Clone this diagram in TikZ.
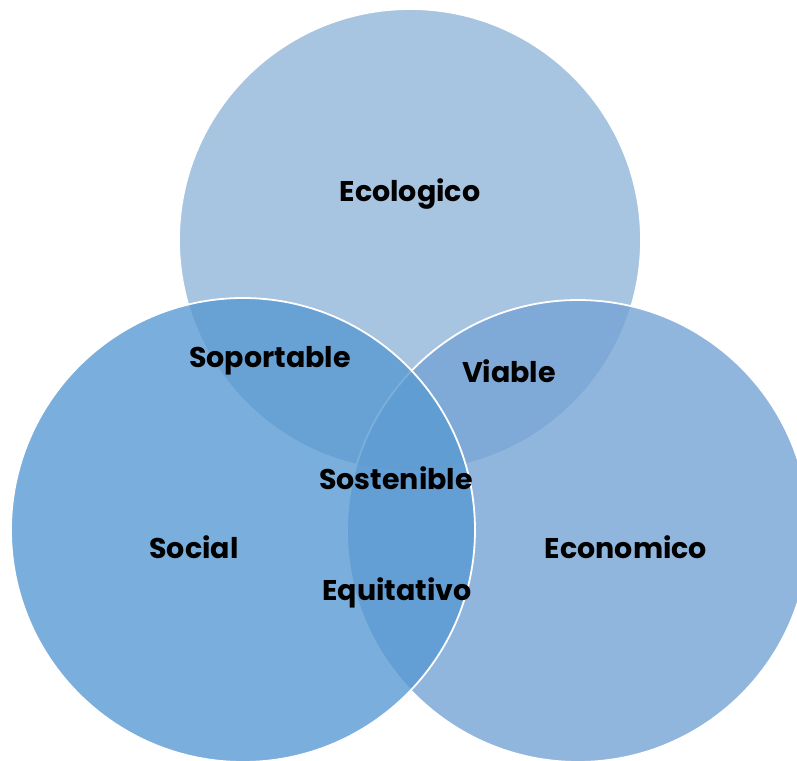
\documentclass[tikz,border=0pt]{standalone}
\usepackage{fontspec}
\setmainfont{Poppins}
\definecolor{ecocol}{RGB}{145,181,216}
\definecolor{soccol}{RGB}{89,154,211}
\definecolor{econcol}{RGB}{118,164,212}
\begin{document}
\begin{tikzpicture}[x=1pt,y=-1pt,
  set/.style={fill opacity=0.8,draw=white,line width=1.8pt},
  lbl/.style={font=\fontsize{28.5}{32}\selectfont\bfseries,text=black}]
\useasboundingbox (0,0) rectangle (797,760);
\clip (0,0) rectangle (797,760);
% the three sets, back to front
\path[set,fill=ecocol] (410,240) circle[radius=231];
\path[set,fill=econcol] (578,531) circle[radius=231];
\path[set,fill=soccol] (243,530) circle[radius=232];
% labels
\node[lbl] (eco) at (410,194) {Ecologico};
\node[lbl] (soc) at (194,547) {Social};
\node[lbl] (econ) at (626,547) {Economico};
\node[lbl] (sop) at (270,361) {Soportable};
\node[lbl] (via) at (509,371) {Viable};
\node[lbl] (sos) at (396,478) {Sostenible};
\node[lbl] (equ) at (397,593) {Equitativo};
\end{tikzpicture}
\end{document}
